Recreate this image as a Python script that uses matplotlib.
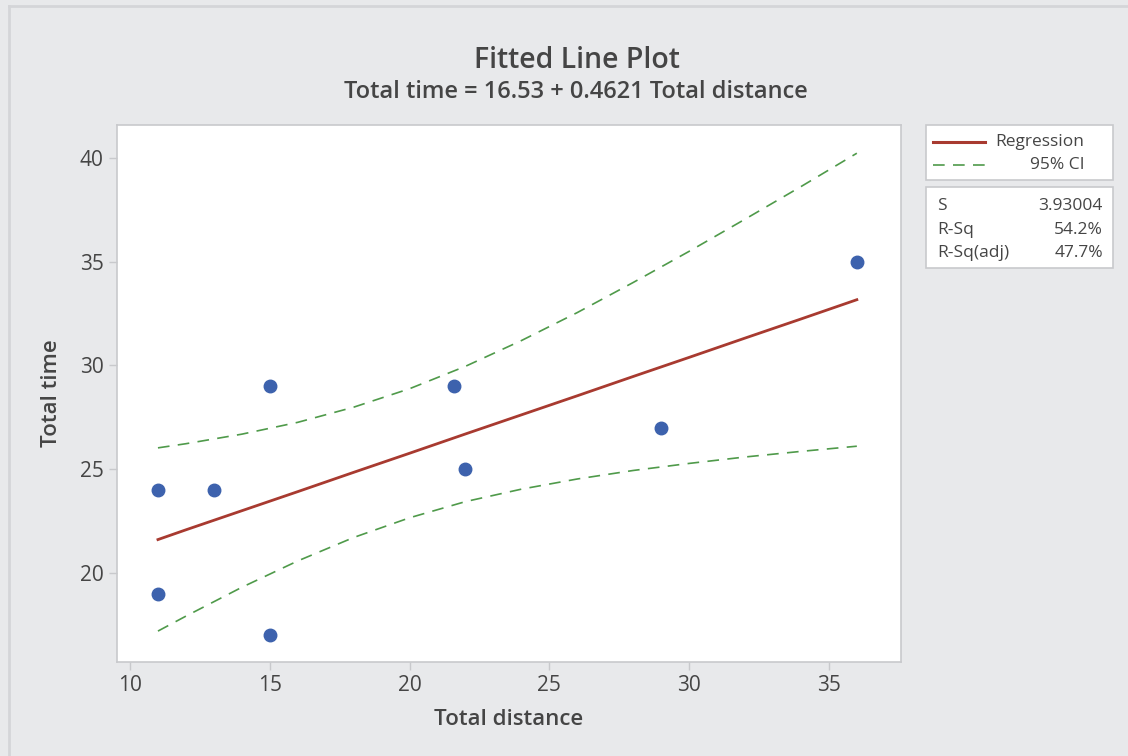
import matplotlib
matplotlib.use("Agg")
import matplotlib.pyplot as plt
from matplotlib.patches import Rectangle
from matplotlib.lines import Line2D

plt.rcParams['font.family'] = ['Open Sans', 'DejaVu Sans']

# data points
dist = [11, 11, 13, 15, 15, 21.6, 22, 29, 36]
time = [24, 19, 24, 29, 17, 29, 25, 27, 35]

# fitted line and CI
grid_x = [11, 12, 14, 16, 18, 20, 22, 24, 26, 28, 30, 32, 34, 36]
fit_y = [21.61, 22.08, 23.00, 23.92, 24.85, 25.77, 26.70, 27.62, 28.54, 29.47, 30.39, 31.32, 32.24, 33.17]
ci_low = [17.20, 17.92, 19.31, 20.58, 21.71, 22.66, 23.44, 24.04, 24.53, 24.94, 25.28, 25.59, 25.86, 26.11]
ci_up = [26.03, 26.23, 26.69, 27.26, 27.99, 28.88, 29.96, 31.20, 32.55, 34.00, 35.50, 37.05, 38.62, 40.23]

xticks = [10, 15, 20, 25, 30, 35]
yticks = [20, 25, 30, 35, 40]

W, H = 1128, 756
bg = '#e8e9eb'
txt = '#454545'
red = '#a83a30'
green = '#4f9a4a'
blue = '#3d62ad'
frame = '#c8c9cc'

fig = plt.figure(figsize=(W / 100, H / 100), dpi=100, facecolor=bg)

def fx(px):
    return px / W

def fy(py):
    return 1 - py / H

# outer frame lines
fig.add_artist(Line2D([fx(9), fx(9)], [fy(6), fy(756)], color='#d4d5d8', lw=2))
fig.add_artist(Line2D([fx(9), fx(1128)], [fy(6), fy(6)], color='#d4d5d8', lw=2))

ax = fig.add_axes([fx(117), fy(662), fx(901) - fx(117), fy(125) - fy(662)])
ax.set_facecolor('white')
for s in ax.spines.values():
    s.set_color(frame)
    s.set_linewidth(1.2)

ax.plot(grid_x, ci_up, color=green, lw=1.2, ls=(0, (7, 5)))
ax.plot(grid_x, ci_low, color=green, lw=1.2, ls=(0, (7, 5)))
ax.plot(grid_x, fit_y, color=red, lw=2)
ax.plot(dist, time, 'o', color=blue, ms=9, mec=blue, zorder=5)

ax.set_xlim(9.535, 37.58)
ax.set_ylim(15.71, 41.59)
ax.set_xticks(xticks)
ax.set_yticks(yticks)
ax.tick_params(colors=frame, labelcolor=txt, labelsize=15, length=6, width=1)
for lab in ax.get_xticklabels() + ax.get_yticklabels():
    lab.set_fontweight('medium')
ax.set_xlabel('Total distance', fontsize=16, color=txt, labelpad=9, fontweight='semibold')
ax.set_ylabel('Total time', fontsize=16, color=txt, labelpad=13, fontweight='semibold')

fig.text(fx(577), fy(60), 'Fitted Line Plot', ha='center', va='center', fontsize=20.5,
         color=txt, fontweight='semibold')
fig.text(fx(576), fy(92), 'Total time = 16.53 + 0.4621 Total distance', ha='center', va='center',
         fontsize=17, color=txt, fontweight='semibold')

# legend box
def box(x0, y0, x1, y1):
    fig.add_artist(Rectangle((fx(x0), fy(y1)), fx(x1) - fx(x0), fy(y0) - fy(y1),
                             facecolor='white', edgecolor=frame, lw=1.2))

box(926, 125, 1113, 180)
fig.add_artist(Line2D([fx(933), fx(985)], [fy(142), fy(142)], color=red, lw=2.2))
fig.add_artist(Line2D([fx(933), fx(985)], [fy(165), fy(165)], color=green, lw=1.2, ls=(0, (7, 5))))
fig.text(fx(1084), fy(142), 'Regression', ha='right', va='center', fontsize=12.5, color=txt)
fig.text(fx(1084), fy(165), '95% CI', ha='right', va='center', fontsize=12.5, color=txt)

box(926, 187, 1113, 268)
stats_names = ['S', 'R-Sq', 'R-Sq(adj)']
stats_vals = ['3.93004', '54.2%', '47.7%']
for i, (n, v) in enumerate(zip(stats_names, stats_vals)):
    yy = 206 + i * 23.5
    fig.text(fx(937), fy(yy), n, ha='left', va='center', fontsize=12.5, color=txt)
    fig.text(fx(1103), fy(yy), v, ha='right', va='center', fontsize=12.5, color=txt)

fig.savefig('out.png', dpi=100, facecolor=bg)
